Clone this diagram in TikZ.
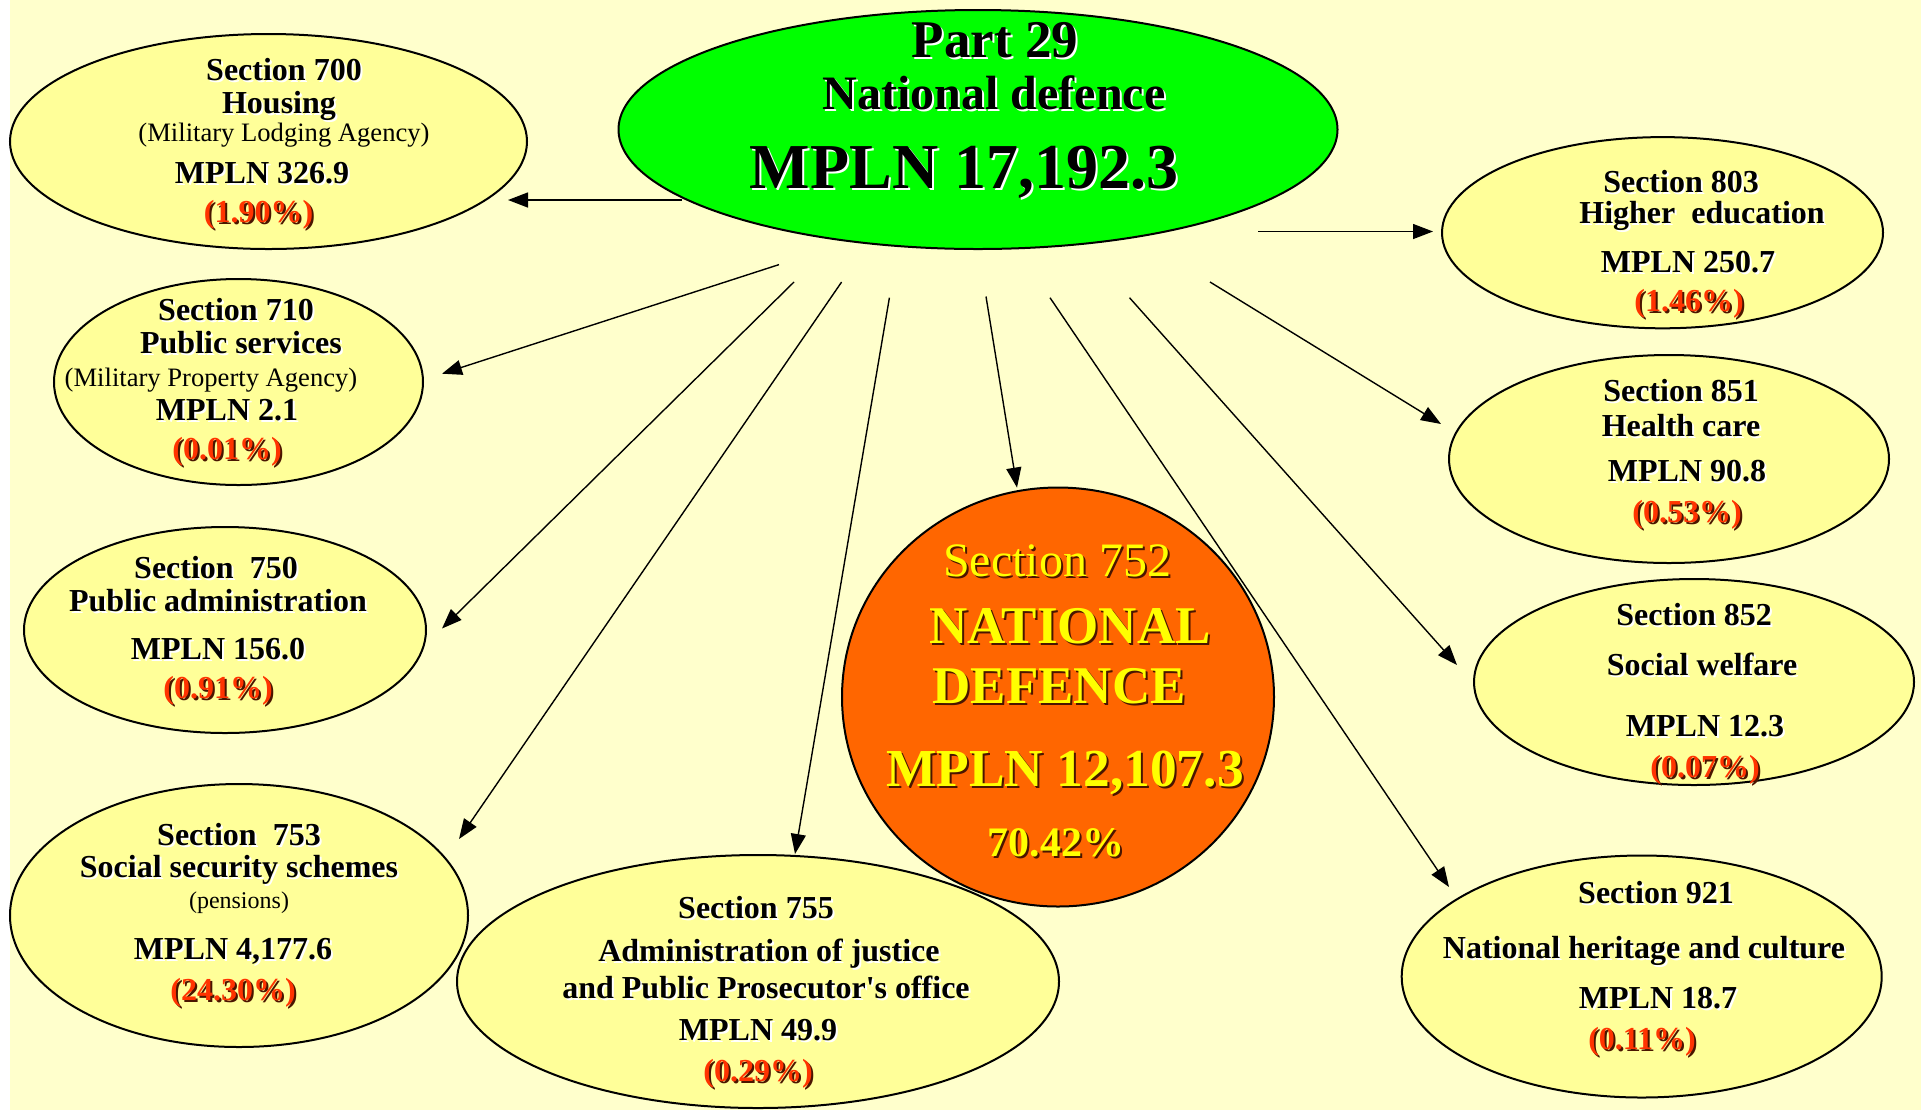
\documentclass[tikz,border=0pt]{standalone}
\usepackage{fontspec}
\setmainfont{Liberation Serif}
\usetikzlibrary{shapes.geometric,arrows.meta}
\definecolor{bgyel}{HTML}{FFFFCC}
\definecolor{elyel}{HTML}{FFFF99}
\definecolor{grn}{HTML}{00FF00}
\definecolor{org}{HTML}{FF6600}
\definecolor{pctred}{HTML}{FF3300}
\definecolor{ytxt}{HTML}{FFFF00}
\definecolor{dsh}{HTML}{4A1500}
\newcommand\sdtext[6]{\node[#1,text=#2] at (#4+2,#5+2) {#6};\node[#1] (#3) at (#4,#5) {#6};}
\begin{document}
\begin{tikzpicture}[x=0.5pt,y=-0.5pt,
  ell/.style={ellipse, draw=black, line width=1pt, fill=elyel, inner sep=0pt},
  txt/.style={inner sep=0pt, anchor=mid, align=center},
  bb/.style={txt, font=\fontsize{16}{19}\selectfont\bfseries},
  sm/.style={txt, font=\fontsize{13.3}{16}\selectfont},
  pc/.style={txt, text=pctred, font=\fontsize{16}{19}\selectfont\bfseries},
  arr/.style={line width=0.7pt, -{Triangle[length=10pt,width=7.5pt]}}]
\useasboundingbox (0,0) rectangle (1921,1110);
\fill[white] (0,0) rectangle (10,1110);
\fill[bgyel] (10,0) rectangle (1921,1110);

% ellipses
\node[ell, minimum width=258.5pt, minimum height=107.5pt] (e700) at (268.5,141.5) {};
\node[ell, minimum width=184.5pt, minimum height=103pt] (e710) at (238.5,382) {};
\node[ell, minimum width=201pt, minimum height=103pt] (e750) at (225,630) {};
\node[ell, minimum width=229pt, minimum height=131.5pt] (e753) at (239,915.5) {};
\node[ell, minimum width=301pt, minimum height=126.5pt] (e755) at (758,981.5) {};
\node[ell, fill=org, minimum width=216pt, minimum height=209.5pt] (e752) at (1058,697) {};
\node[ell, minimum width=220.5pt, minimum height=95.6pt] (e803) at (1662.5,232.7) {};
\node[ell, minimum width=220pt, minimum height=104pt] (e851) at (1669,459) {};
\node[ell, minimum width=220pt, minimum height=103pt] (e852) at (1694,682) {};
\node[ell, minimum width=240pt, minimum height=121pt] (e921) at (1641.7,976.5) {};
\node[ell, fill=grn, minimum width=359.5pt, minimum height=119.5pt] (part) at (978,129.5) {};

% green title
\sdtext{txt,font=\fontsize{26.5}{30}\selectfont\bfseries}{white}{g1}{995}{53}{Part 29}
\sdtext{txt,font=\fontsize{24}{28}\selectfont\bfseries}{white}{g2}{994}{105}{National defence}
\sdtext{txt,font=\fontsize{32}{36}\selectfont\bfseries}{white}{g3}{964}{184}{MPLN 17,192.3}

% orange
\sdtext{txt,text=ytxt,font=\fontsize{24}{28}\selectfont}{dsh}{o1}{1057}{572}{Section 752}
\sdtext{txt,text=ytxt,font=\fontsize{26.5}{30}\selectfont\bfseries}{dsh}{o2}{1070}{639}{NATIONAL}
\sdtext{txt,text=ytxt,font=\fontsize{26.5}{30}\selectfont\bfseries}{dsh}{o3}{1059}{699}{DEFENCE}
\sdtext{txt,text=ytxt,font=\fontsize{26.7}{30}\selectfont\bfseries}{dsh}{o4}{1065}{782}{MPLN 12,107.3}
\sdtext{txt,text=ytxt,font=\fontsize{21}{25}\selectfont\bfseries}{dsh}{o5}{1056}{852}{70.42\%}

% 700
\sdtext{bb}{white}{a1}{284}{76}{Section 700}
\sdtext{bb}{white}{a2}{279}{109}{Housing}
\node[sm] (a3) at (284,137) {(Military Lodging Agency)};
\sdtext{bb}{white}{a4}{262}{179}{MPLN 326.9}
\sdtext{pc}{dsh}{a5}{258.5}{218}{(1.90\%)}
% 710
\sdtext{bb}{white}{b1}{236}{316}{Section 710}
\sdtext{bb}{white}{b2}{241}{349}{Public services}
\node[sm] (b3) at (211,382) {(Military Property Agency)};
\sdtext{bb}{white}{b4}{227}{416}{MPLN 2.1}
\sdtext{pc}{dsh}{b5}{227}{455}{(0.01\%)}
% 750
\sdtext{bb}{white}{c1}{216}{574}{Section\ \ 750}
\sdtext{bb}{white}{c2}{218}{607}{Public administration}
\sdtext{bb}{white}{c3}{218}{655}{MPLN 156.0}
\sdtext{pc}{dsh}{c4}{218}{694}{(0.91\%)}
% 753
\sdtext{bb}{white}{d1}{239}{841}{Section\ \ 753}
\sdtext{bb}{white}{d2}{239}{873}{Social security schemes}
\node[sm, font=\fontsize{12}{14}\selectfont] (d3) at (239,904) {(pensions)};
\sdtext{bb}{white}{d4}{233}{955}{MPLN 4,177.6}
\sdtext{pc}{dsh}{d5}{233}{996}{(24.30\%)}
% 755
\sdtext{bb}{white}{f1}{756}{914}{Section 755}
\sdtext{bb}{white}{f2}{769}{957}{Administration of justice}
\sdtext{bb}{white}{f3}{766}{994}{and Public Prosecutor\textquotesingle s office}
\sdtext{bb}{white}{f4}{758}{1036}{MPLN 49.9}
\sdtext{pc}{dsh}{f5}{758}{1077}{(0.29\%)}
% 803
\sdtext{bb}{white}{h1}{1681}{188}{Section 803}
\sdtext{bb}{white}{h2}{1702}{219}{Higher\ \ education}
\sdtext{bb}{white}{h3}{1688}{268}{MPLN 250.7}
\sdtext{pc}{dsh}{h4}{1689}{307}{(1.46\%)}
% 851
\sdtext{bb}{white}{k1}{1681}{397}{Section 851}
\sdtext{bb}{white}{k2}{1681}{432}{Health care}
\sdtext{bb}{white}{k3}{1687}{477}{MPLN 90.8}
\sdtext{pc}{dsh}{k4}{1687}{518}{(0.53\%)}
% 852
\sdtext{bb}{white}{m1}{1694}{621}{Section 852}
\sdtext{bb}{white}{m2}{1702}{671}{Social welfare}
\sdtext{bb}{white}{m3}{1705}{732}{MPLN 12.3}
\sdtext{pc}{dsh}{m4}{1705}{773}{(0.07\%)}
% 921
\sdtext{bb}{white}{n1}{1656}{899}{Section 921}
\sdtext{bb}{white}{n2}{1644}{954}{National heritage and culture}
\sdtext{bb}{white}{n3}{1658}{1004}{MPLN 18.7}
\sdtext{pc}{dsh}{n4}{1642}{1045}{(0.11\%)}

% arrow end points
\coordinate (s700) at (682,200);   \coordinate (t700) at (508,200);
\coordinate (s803) at (1258,231.5); \coordinate (t803) at (1433,231.5);
\coordinate (s710) at (779,264.6); \coordinate (t710) at (442,373.7);
\coordinate (s750) at (794,282);   \coordinate (t750) at (442,628.5);
\coordinate (s753) at (841.6,282); \coordinate (t753) at (459,839);
\coordinate (s755) at (889.4,297.7); \coordinate (t755) at (795,854);
\coordinate (s752) at (986,296.5); \coordinate (t752) at (1017,487.6);
\coordinate (s921) at (1050,297.7); \coordinate (t921) at (1449,887);
\coordinate (s852) at (1129.5,297.7); \coordinate (t852) at (1457,665);
\coordinate (s851) at (1210,282);  \coordinate (t851) at (1441,424);

\foreach \k in {700,803,710,750,753,755,752,921,852,851}
  \draw[arr] (s\k) -- (t\k);
\end{tikzpicture}
\end{document}
